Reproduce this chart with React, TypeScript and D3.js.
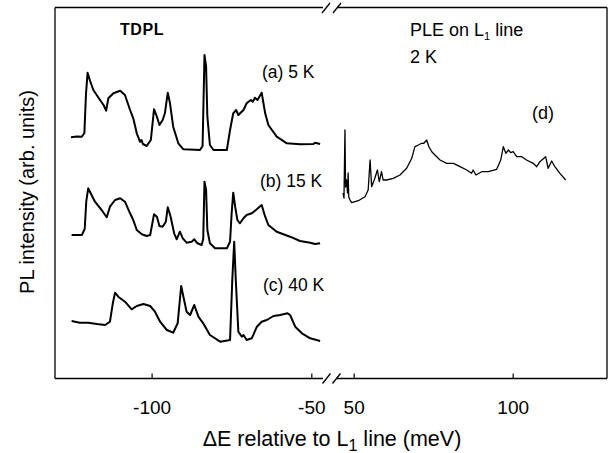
import React from "react";
import * as d3 from "d3";

// TDPL spectra (left panel): [ΔE (meV), intensity (arb. units, offset)]
const curveA5K: [number, number][] = [
  [-125.4, 241.7], [-123.5, 242.6], [-122.0, 242.3], [-121.2, 246], [-120.7, 285], [-120.2, 306.3], [-119.4, 298], [-118.4, 289],
  [-116.3, 279], [-115.2, 274], [-114.4, 268.3], [-113.7, 280.7], [-112.1, 285.7], [-110.0, 288.3], [-108.5, 284],
  [-106.9, 269], [-105.9, 260.7], [-104.8, 245.7], [-103.8, 237.3], [-103.3, 239], [-102.9, 235], [-101.7, 233],
  [-100.4, 239], [-99.4, 269.7], [-98.5, 262.3], [-97.7, 254], [-96.7, 259], [-96.0, 265.7],
  [-95.1, 286.3], [-94.4, 275.7], [-93.4, 252.3], [-91.8, 235.7], [-90.2, 229.7], [-85.0, 229],
  [-84.2, 233], [-83.6, 324], [-83.1, 312.3], [-82.7, 262.3], [-81.9, 234], [-80.8, 229],
  [-76.6, 229], [-75.6, 249], [-74.6, 265.7], [-73.7, 269], [-73.0, 264], [-71.4, 269],
  [-70.4, 275.7], [-69.1, 279], [-68.5, 277.3], [-67.8, 281.3], [-67.0, 279], [-65.7, 286.3],
  [-64.6, 265.7], [-63.6, 254], [-61.0, 242.3], [-57.8, 235.7], [-53.7, 234.7], [-49.5, 235],
  [-49.0, 236.3], [-47.4, 235],
];

const curveB15K: [number, number][] = [
  [-125.2, 144], [-122.0, 144], [-121.1, 150], [-120.6, 178], [-120.0, 190.7], [-117.9, 177.3],
  [-115.8, 169], [-114.2, 161.7], [-113.2, 172.3], [-111.6, 179], [-110.0, 180.7], [-108.5, 177.3],
  [-106.9, 165.7], [-105.9, 159], [-104.8, 149], [-103.2, 144.7], [-101.7, 143], [-100.6, 144],
  [-99.4, 164.7], [-98.5, 162.3], [-97.7, 153], [-96.7, 152.3], [-95.7, 157.3], [-95.1, 171.7],
  [-94.2, 162.3], [-93.1, 145.7], [-92.3, 139.7], [-91.3, 147.3], [-90.4, 140.7], [-89.2, 136.3],
  [-87.6, 137.3], [-86.8, 139.7], [-85.8, 135.7], [-84.5, 134], [-84.0, 140], [-83.6, 197.3],
  [-83.1, 189], [-82.7, 149], [-81.9, 135.7], [-80.3, 130.7], [-76.6, 130.7], [-75.6, 137.3],
  [-75.1, 165.7], [-74.6, 186.3], [-74.0, 172.3], [-73.3, 159], [-72.5, 155.7], [-71.4, 160.7],
  [-70.4, 164], [-68.8, 165.7], [-67.5, 169], [-65.7, 174], [-64.6, 162.3], [-63.6, 154],
  [-61.0, 147.3], [-56.8, 142.3], [-53.7, 138], [-50.5, 136.3], [-49.0, 135], [-47.4, 135.7],
];

const curveC40K: [number, number][] = [
  [-125.2, 58], [-122.6, 56.3], [-120.0, 56.3], [-117.3, 55], [-114.7, 54], [-113.2, 57.3],
  [-112.3, 75.7], [-111.6, 86.3], [-110.6, 82.3], [-108.5, 77.3], [-106.4, 69.7], [-104.8, 73],
  [-102.7, 75], [-100.6, 73], [-99.1, 67.3], [-97.5, 57.3], [-95.4, 49], [-93.4, 46.3],
  [-92.0, 55.7], [-90.9, 93], [-90.2, 82.3], [-89.2, 67.3], [-88.1, 64], [-86.8, 74],
  [-85.5, 62.3], [-84.0, 55.7], [-81.9, 44], [-78.7, 37.3], [-75.6, 39], [-74.9, 99],
  [-74.3, 137.3], [-73.8, 99], [-73.0, 47.3], [-71.9, 42.3], [-71.4, 44], [-70.4, 39],
  [-68.8, 40.7], [-67.2, 52.3], [-65.7, 57.3], [-64.1, 59], [-62.0, 63], [-59.9, 64],
  [-57.6, 65.7], [-56.8, 64], [-55.2, 52.3], [-53.1, 45.7], [-50.5, 40.7], [-47.4, 38],
];

// PLE on L1 line (right panel)
const curveD: [number, number][] = [
  [46.5, 186], [46.8, 181], [47.1, 249], [47.3, 192], [47.6, 199], [47.9, 186], [48.1, 206],
  [48.3, 182], [48.7, 179], [49.2, 176.3], [51.3, 178.3], [53.4, 182.3], [54.4, 189],
  [55.0, 219], [55.5, 192.3], [56.5, 200.7], [57.3, 209], [57.9, 197.3], [58.6, 207.3],
  [59.1, 199], [60.2, 199], [62.3, 200.7], [64.4, 204], [66.5, 210.7], [68.1, 220.7],
  [69.1, 232.3], [70.2, 234], [71.2, 235.7], [71.9, 235.7], [72.8, 239], [73.5, 232.3],
  [74.4, 227.3], [75.4, 224], [77.0, 219], [79.1, 215.7], [81.2, 215.7], [83.3, 212.3],
  [85.4, 209], [86.9, 205.7], [87.4, 209], [88.3, 204], [90.1, 207.3], [92.2, 207.3],
  [94.8, 209.7], [96.1, 219], [96.9, 232.3], [97.7, 225.7], [98.5, 229], [99.2, 226.3],
  [100.0, 227.3], [101.1, 222.3], [102.7, 222.3], [104.2, 219], [106.3, 215.7], [107.4, 212.3],
  [108.4, 217.3], [110.2, 222.3], [111.0, 210.7], [112.1, 218], [113.1, 212.3], [114.7, 205.7],
  [116.5, 199],
];

const leftTicks = [-100, -50];
const rightTicks = [50, 100];
const leftTickLabels = ["-100", "-50"];
const rightTickLabels = ["50", "100"];

const W = 615;
const H = 453;
const FONT = "'Liberation Sans', Arial, Helvetica, sans-serif";

export default function App() {
  const top = 7.5;
  const bottom = 378.5;
  const left = 55;
  const right = 607;
  const breakL = 323;
  const breakR = 337;

  const xL = d3.scaleLinear().domain([-130.4, -46.5]).range([left, breakL]);
  const xR = d3.scaleLinear().domain([44.6, 129.5]).range([breakR, right]);
  const y = d3.scaleLinear().domain([0, 371]).range([379, 8]);

  const lineL = d3.line<[number, number]>().x((d) => xL(d[0])).y((d) => y(d[1]));
  const lineR = d3.line<[number, number]>().x((d) => xR(d[0])).y((d) => y(d[1]));

  const slash = (cx: number, cy: number) => (
    <line x1={cx - 4} y1={cy + 5} x2={cx + 4} y2={cy - 5} stroke="#000" strokeWidth={1.3} />
  );

  return (
    <svg
      width={W}
      height={H}
      style={{ position: "absolute", left: 0, top: 0, background: "#fff" }}
      fontFamily={FONT}
    >
      <rect x={0} y={0} width={W} height={H} fill="#fff" />
      {/* frame */}
      <g stroke="#000" strokeWidth={1.3} fill="none">
        <line x1={left} y1={top} x2={left} y2={bottom} />
        <line x1={right} y1={top} x2={right} y2={bottom} />
        <line x1={left} y1={top} x2={breakL} y2={top} />
        <line x1={breakR} y1={top} x2={right} y2={top} />
        <line x1={left} y1={bottom} x2={breakL} y2={bottom} />
        <line x1={breakR} y1={bottom} x2={right} y2={bottom} />
      </g>
      {slash(326, top + 0.5)}
      {slash(337, top + 0.5)}
      {slash(326.5, bottom)}
      {slash(336.5, bottom)}
      {/* ticks */}
      {leftTicks.map((t, i) => (
        <g key={"l" + t}>
          <line x1={xL(t)} x2={xL(t)} y1={bottom} y2={bottom - 5} stroke="#000" strokeWidth={1.2} />
          <text x={xL(t)} y={414} fontSize={19} textAnchor="middle">{leftTickLabels[i]}</text>
        </g>
      ))}
      {rightTicks.map((t, i) => (
        <g key={"r" + t}>
          <line x1={xR(t)} x2={xR(t)} y1={bottom} y2={bottom - 5} stroke="#000" strokeWidth={1.2} />
          <text x={xR(t)} y={414} fontSize={19} textAnchor="middle">{rightTickLabels[i]}</text>
        </g>
      ))}
      {/* curves */}
      <g fill="none" stroke="#000" strokeLinejoin="round">
        <path d={lineL(curveA5K) || ""} strokeWidth={2} />
        <path d={lineL(curveB15K) || ""} strokeWidth={2} />
        <path d={lineL(curveC40K) || ""} strokeWidth={2} />
        <path d={lineR(curveD) || ""} strokeWidth={1.3} />
      </g>
      {/* annotations */}
      <text x={120} y={35} fontSize={16} fontWeight="bold" letterSpacing={0.6}>TDPL</text>
      <text x={262} y={78} fontSize={17.5}>(a) 5 K</text>
      <text x={260} y={187} fontSize={17.5}>(b) 15 K</text>
      <text x={263} y={291} fontSize={17.5}>(c) 40 K</text>
      <text x={410} y={36} fontSize={18}>
        PLE on L<tspan fontSize={11} dy={4}>1</tspan><tspan dy={-4}> line</tspan>
      </text>
      <text x={410} y={63} fontSize={18}>2 K</text>
      <text x={532} y={119} fontSize={18}>(d)</text>
      {/* axis labels */}
      <text x={332} y={446} fontSize={21.5} textAnchor="middle">
        ΔE relative to L<tspan fontSize={16} dy={5}>1</tspan><tspan dy={-5}> line (meV)</tspan>
      </text>
      <text
        transform="translate(34,192) rotate(-90)"
        fontSize={20}
        textAnchor="middle"
      >
        PL intensity (arb. units)
      </text>
    </svg>
  );
}
